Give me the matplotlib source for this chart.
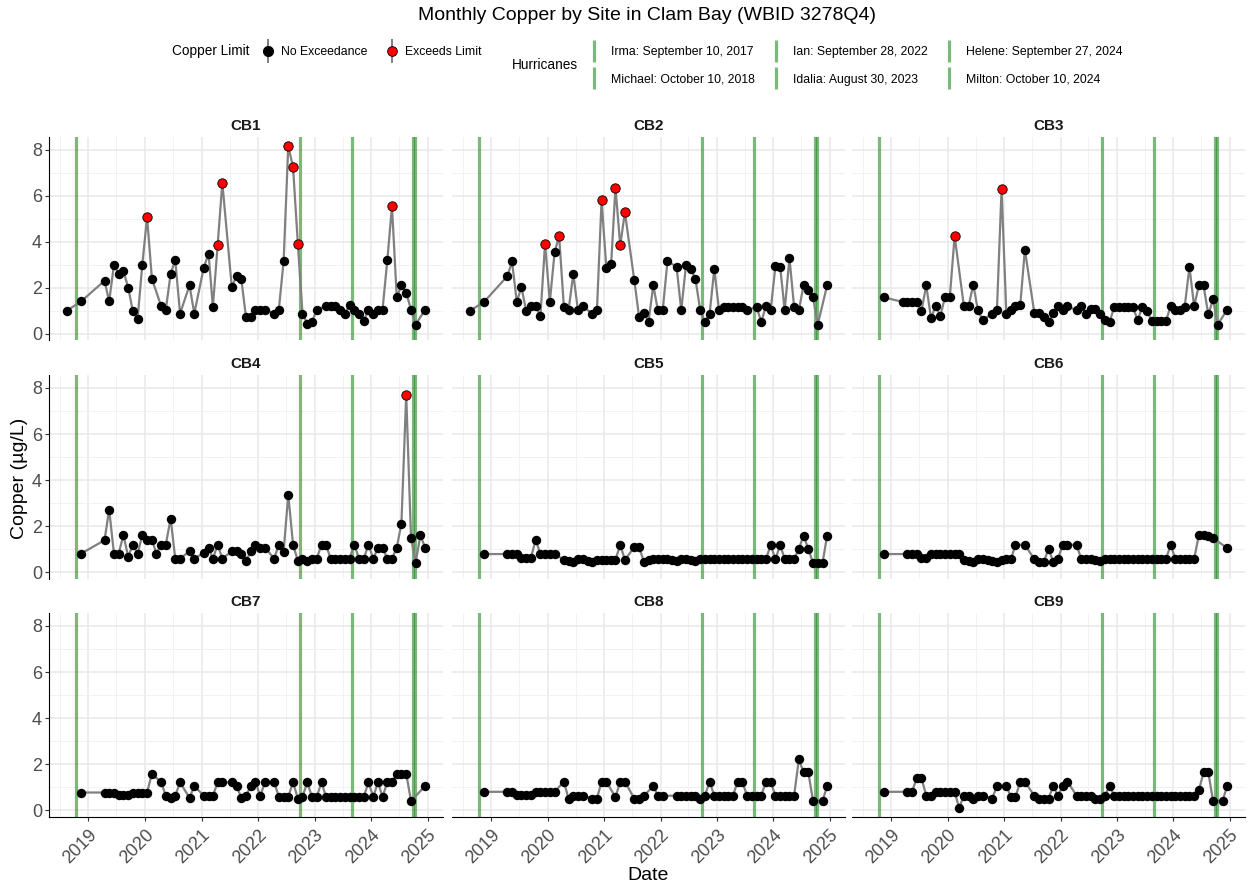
import numpy as np
import pandas as pd
import matplotlib
matplotlib.use("Agg")
import matplotlib.pyplot as plt
import matplotlib.dates as mdates
from matplotlib.lines import Line2D

plt.rcParams['font.family'] = ['Liberation Sans', 'DejaVu Sans']

nan = np.nan

# sampling months (one value per month, mid-month)
sample_months = [
    '2018-08', '2018-11',
    '2019-01', '2019-02', '2019-03', '2019-04', '2019-05', '2019-06',
    '2019-07', '2019-08', '2019-09', '2019-10', '2019-11', '2019-12',
    '2020-01', '2020-02', '2020-03', '2020-04', '2020-05', '2020-06',
    '2020-07', '2020-08', '2020-09', '2020-10', '2020-11', '2020-12',
    '2021-01', '2021-02', '2021-03', '2021-04', '2021-05', '2021-06',
    '2021-07', '2021-08', '2021-09', '2021-10', '2021-11', '2021-12',
    '2022-01', '2022-02', '2022-03', '2022-04', '2022-05', '2022-06',
    '2022-07', '2022-08', '2022-09', '2022-10', '2022-11', '2022-12',
    '2023-01', '2023-02', '2023-03', '2023-04', '2023-05', '2023-06',
    '2023-07', '2023-08', '2023-09', '2023-10', '2023-11', '2023-12',
    '2024-01', '2024-02', '2024-03', '2024-04', '2024-05', '2024-06',
    '2024-07', '2024-08', '2024-09', '2024-10', '2024-11', '2024-12',
]

cb1 = [1.0, 1.4,
       nan, nan, nan, 2.3, 1.4, 3.0, 2.6, 2.72, 2.0, 0.97, 0.65, 3.0,
       5.07, 2.39, nan, 1.19, 1.04, 2.6, 3.2, 0.87, nan, 2.1, 0.87, nan,
       2.87, 3.48, 1.16, 3.87, 6.57, nan, 2.03, 2.5, 2.36, 0.7, 0.7, 1.04,
       1.04, 1.04, nan, 0.87, 1.04, 3.14, 8.16, 7.25, 3.9, 0.87, 0.43, 0.5,
       1.04, nan, 1.19, 1.19, 1.19, 1.04, 0.87, 1.23, 1.04, 0.87, 0.55, 1.04,
       0.87, 1.04, 1.04, 3.19, 5.55, 1.57, 2.1, 1.78, 1.04, 0.39, nan, 1.04]
cb2 = [0.99, 1.38,
       nan, nan, nan, 2.5, 3.14, 1.38, 2.03, 0.97, 1.19, 1.19, 0.77, 3.91,
       1.38, 3.55, 4.25, 1.16, 1.01, 2.6, 1.01, 1.19, nan, 0.87, 1.01, 5.8,
       2.86, 3.04, 6.35, 3.84, 5.29, nan, 2.32, 0.72, 0.91, 0.51, 2.1, 1.01,
       1.01, 3.16, nan, 2.9, 1.01, 2.97, 2.8, 2.39, 1.01, 0.51, 0.87, 2.8,
       1.01, 1.16, 1.16, 1.16, 1.16, 1.16, 1.01, nan, 1.16, 0.51, 1.19, 1.01,
       2.93, 2.9, 1.01, 3.29, 1.16, 1.01, 2.1, 1.91, 1.57, 0.39, nan, 2.1]
cb3 = [nan, 1.57,
       nan, nan, 1.38, 1.38, 1.38, 1.38, 0.97, 2.1, 0.68, 1.19, 0.77, 1.6,
       1.6, 4.25, nan, 1.19, 1.19, 2.13, 1.01, 0.58, nan, 0.87, 1.01, 6.3,
       0.84, 1.01, 1.19, 1.23, 3.65, nan, 0.91, 0.91, 0.72, 0.51, 0.91, 1.19,
       1.01, 1.19, nan, 1.01, 1.19, 0.87, 1.06, 1.06, 0.87, 0.61, 0.51, 1.16,
       1.16, 1.16, 1.16, 1.16, 0.58, 1.16, 0.97, 0.55, 0.55, 0.55, 0.55, 1.19,
       1.01, 1.01, 1.16, 2.9, 1.19, 2.1, 2.1, 0.83, 1.49, 0.39, nan, 1.04]
cb4 = [nan, 0.82,
       nan, nan, nan, 1.4, 2.73, 0.82, 0.82, 1.62, 0.68, 1.21, 0.82, 1.62,
       1.43, 1.43, 0.82, 1.21, 1.21, 2.34, 0.6, 0.6, nan, 0.92, 0.6, nan,
       0.85, 1.08, 0.6, 1.21, 0.6, nan, 0.92, 0.92, 0.79, 0.5, 0.92, 1.21,
       1.08, 1.08, nan, 0.6, 1.21, 0.9, 3.38, 1.21, 0.5, 0.6, 0.5, 0.6,
       0.6, 1.21, 1.21, 0.6, 0.6, 0.6, 0.6, 0.6, 1.21, 0.6, 0.6, 1.21,
       0.6, 1.08, 1.08, 0.6, 0.6, 1.08, 2.12, 7.71, 1.5, 0.43, 1.62, 1.08]
cb5 = [nan, 0.8,
       nan, nan, nan, 0.8, 0.8, 0.8, 0.65, 0.65, 0.65, 1.41, 0.8, 0.8,
       0.8, 0.8, nan, 0.55, 0.5, 0.45, 0.58, 0.58, 0.5, 0.45, 0.55, 0.55,
       0.55, 0.55, 0.55, 1.2, 0.55, nan, 1.1, 1.1, 0.47, 0.55, 0.58, 0.58,
       0.58, 0.58, 0.55, 0.5, 0.58, 0.58, 0.55, 0.5, 0.58, 0.58, 0.58, 0.58,
       0.58, 0.58, 0.58, 0.58, 0.58, 0.58, 0.58, 0.58, 0.58, 0.58, 0.58, 1.19,
       0.58, 1.19, 0.58, 0.58, 0.58, 1.02, 1.6, 1.02, 0.41, 0.41, 0.41, 1.6]
cb6 = [nan, 0.8,
       nan, nan, nan, 0.8, 0.8, 0.8, 0.65, 0.65, 0.8, 0.8, 0.8, 0.8,
       0.8, 0.8, 0.8, 0.55, 0.5, 0.45, 0.6, 0.6, 0.55, 0.5, 0.45, 0.55,
       0.6, 0.6, 1.2, nan, 1.2, nan, 0.58, 0.47, 0.47, 1.02, 0.47, 0.58,
       1.2, 1.2, nan, 1.2, 0.58, 0.58, 0.58, 0.55, 0.5, 0.58, 0.58, 0.58,
       0.58, 0.58, 0.58, 0.58, 0.58, 0.58, 0.58, 0.58, 0.58, 0.58, 0.58, 1.2,
       0.58, 0.58, 0.58, 0.58, 0.58, 1.63, 1.63, 1.6, 1.5, nan, nan, 1.06]
cb7 = [nan, 0.78,
       nan, nan, nan, 0.78, 0.78, 0.78, 0.67, 0.67, 0.67, 0.78, 0.78, 0.78,
       0.78, 1.6, nan, 1.22, 0.64, 0.55, 0.64, 1.22, nan, 0.55, 1.06, nan,
       0.64, 0.64, 0.64, 1.22, 1.22, nan, 1.22, 1.06, 0.55, 0.64, 1.06, 1.22,
       0.64, 1.22, nan, 1.22, 0.6, 0.6, 0.6, 1.22, 0.52, 0.6, 1.22, 0.6,
       0.6, 1.22, 0.6, 0.6, 0.6, 0.6, 0.6, 0.6, 0.6, 0.6, 0.6, 1.22,
       0.6, 1.22, 0.6, 1.22, 1.22, 1.6, 1.6, 1.6, 0.41, nan, nan, 1.06]
cb8 = [nan, 0.81,
       nan, nan, nan, 0.81, 0.81, 0.67, 0.67, 0.67, 0.67, 0.81, 0.81, 0.81,
       0.81, 0.81, nan, 1.25, 0.52, 0.64, 0.64, 0.64, nan, 0.52, 0.52, 1.25,
       1.25, nan, 0.58, 1.25, 1.25, nan, 0.52, 0.52, 0.64, nan, 1.06, 0.64,
       0.64, nan, nan, 0.64, 0.64, 0.64, 0.64, 0.64, 0.52, 0.64, 1.25, 0.64,
       0.64, 0.64, 0.64, 0.64, 1.25, 1.25, 0.64, 0.64, 0.64, 0.64, 1.25, 1.25,
       0.64, 0.64, 0.64, 0.64, 0.64, 2.23, 1.65, 1.65, 0.41, nan, 0.41, 1.06]
cb9 = [nan, 0.81,
       nan, nan, nan, 0.81, 0.81, 1.42, 1.42, 0.64, 0.64, 0.81, 0.81, 0.81,
       0.81, 0.81, 0.12, 0.64, 0.64, 0.52, 0.64, 0.64, nan, 0.52, 1.06, nan,
       1.06, 0.58, 0.58, 1.25, 1.25, nan, 0.64, 0.52, 0.52, 0.52, 1.06, 0.64,
       1.06, 1.25, nan, 0.64, 0.64, 0.64, 0.64, 0.52, 0.52, 0.64, 1.06, 0.64,
       0.64, 0.64, 0.64, 0.64, 0.64, 0.64, 0.64, 0.64, 0.64, 0.64, 0.64, 0.64,
       0.64, 0.64, 0.64, 0.64, 0.64, 0.87, 1.65, 1.65, 0.41, nan, 0.41, 1.06]

sites = ['CB1', 'CB2', 'CB3', 'CB4', 'CB5', 'CB6', 'CB7', 'CB8', 'CB9']
site_values = [cb1, cb2, cb3, cb4, cb5, cb6, cb7, cb8, cb9]

copper_limit = 3.7

hurricane_names = ['Irma', 'Michael', 'Ian', 'Idalia', 'Helene', 'Milton']
hurricane_dates = ['2017-09-10', '2018-10-10', '2022-09-28', '2023-08-30',
                   '2024-09-27', '2024-10-10']

dates = pd.to_datetime(sample_months) + pd.Timedelta(days=14)
hdates = pd.to_datetime(hurricane_dates)

green = '#228B22'
green_a = (34 / 255, 139 / 255, 34 / 255, 0.6)
line_grey = '#808080'
grid_col = '#e8e8e8'
txt_grey = '#4d4d4d'

W, H = 1251, 888
fig = plt.figure(figsize=(W / 100, H / 100), dpi=100)

col_x = [(49, 443), (452, 845), (852, 1245)]
row_y = [(137, 340), (375, 579), (613, 817)]

# shared scales (5% expansion like ggplot)
all_vals = np.array(site_values, dtype=float)
vmin, vmax = np.nanmin(all_vals), np.nanmax(all_vals)
dn = mdates.date2num(dates)
dspan = dn.max() - dn.min()
xlim = (dn.min() - 0.05 * dspan, dn.max() + 0.05 * dspan)
ylim = (vmin - 0.05 * (vmax - vmin), vmax + 0.05 * (vmax - vmin))

year_ticks = pd.to_datetime([f'{y}-01-01' for y in range(2019, 2026)])
mid_ticks = pd.to_datetime([f'{y}-07-01' for y in range(2018, 2025)])

for i, (site, vals) in enumerate(zip(sites, site_values)):
    r, c = divmod(i, 3)
    x0, x1 = col_x[c]
    y0, y1 = row_y[r]
    ax = fig.add_axes([x0 / W, 1 - y1 / H, (x1 - x0) / W, (y1 - y0) / H])

    v = np.array(vals, dtype=float)
    ok = ~np.isnan(v)
    d = dates[ok]
    v = v[ok]
    exceed = v > copper_limit

    for hd in hdates:
        ax.axvline(hd, color=green, alpha=0.6, lw=2.3, zorder=1)
    ax.plot(d, v, color=line_grey, lw=1.6, zorder=2)
    ax.scatter(d[~exceed], v[~exceed], s=46, color='black', zorder=3, linewidths=0)
    ax.scatter(d[exceed], v[exceed], s=46, color='red', edgecolors='black',
               linewidths=0.6, zorder=4)

    ax.set_xlim(xlim)
    ax.set_ylim(ylim)
    ax.set_xticks(year_ticks)
    ax.set_xticks(mid_ticks, minor=True)
    ax.set_yticks([0, 2, 4, 6, 8])
    ax.set_yticks([1, 3, 5, 7], minor=True)
    ax.grid(True, which='major', color=grid_col, lw=1.1, zorder=0)
    ax.grid(True, which='minor', color='#f0f0f0', lw=0.6, zorder=0)
    ax.set_axisbelow(True)
    for s in ax.spines.values():
        s.set_visible(False)

    ax.tick_params(which='minor', length=0)
    ax.tick_params(axis='both', which='major', colors='#333333', labelcolor=txt_grey,
                   labelsize=13, width=0.8, length=3)
    if c == 0:
        ax.spines['left'].set_visible(True)
        ax.spines['left'].set_linewidth(0.8)
        ax.tick_params(axis='y', pad=2)
    else:
        ax.tick_params(axis='y', length=0, labelleft=False)
    if r == 2:
        ax.spines['bottom'].set_visible(True)
        ax.spines['bottom'].set_linewidth(0.8)
        ax.xaxis.set_major_formatter(mdates.DateFormatter('%Y'))
        for lab in ax.get_xticklabels():
            lab.set_rotation(45)
            lab.set_ha('right')
            lab.set_rotation_mode('anchor')
    else:
        ax.tick_params(axis='x', length=0, labelbottom=False)

    ax.set_title(site, fontsize=11, fontweight='bold', color='#1a1a1a', pad=5)

fig.text(647 / W, 1 - 16 / H, 'Monthly Copper by Site in Clam Bay (WBID 3278Q4)',
         ha='center', va='center', fontsize=14)
fig.text(20 / W, 1 - 478 / H, 'Copper (µg/L)', rotation=90, ha='center', va='center',
         fontsize=14)
fig.text(648 / W, 1 - 875 / H, 'Date', ha='center', va='center', fontsize=14)

# legends
fig.text(172 / W, 1 - 51 / H, 'Copper Limit', va='center', fontsize=9.8)
vkey = Line2D([], [], color=line_grey, lw=0, marker='|', ms=17, mew=1.4)
h_no = (vkey, Line2D([], [], lw=0, marker='o', ms=7, mfc='black', mec='black'))
h_ex = (vkey, Line2D([], [], lw=0, marker='o', ms=7, mfc='red', mec='black', mew=0.6))
fig.legend([h_no, h_ex], ['No Exceedance', 'Exceeds Limit'], ncol=2,
           loc='center left', bbox_to_anchor=(260 / W, 1 - 52 / H), frameon=False,
           fontsize=8.8, handlelength=1.3, handletextpad=0.45, columnspacing=1.3,
           borderaxespad=0, borderpad=0)

fig.text(512 / W, 1 - 65 / H, 'Hurricanes', va='center', fontsize=9.8)
h_handles = [Line2D([], [], color=green_a, lw=0, marker='|', ms=16, mew=2.3)
             for _ in hurricane_names]
h_labels = [f'{n}: {d:%B} {d.day}, {d.year}' for n, d in zip(hurricane_names, hdates)]
fig.legend(h_handles, h_labels, ncol=3, loc='center left',
           bbox_to_anchor=(588 / W, 1 - 66 / H), frameon=False, fontsize=8.8,
           handlelength=1.0, handletextpad=0.9, columnspacing=1.2, labelspacing=1.25,
           borderaxespad=0, borderpad=0)

fig.savefig('out.png', dpi=100)
